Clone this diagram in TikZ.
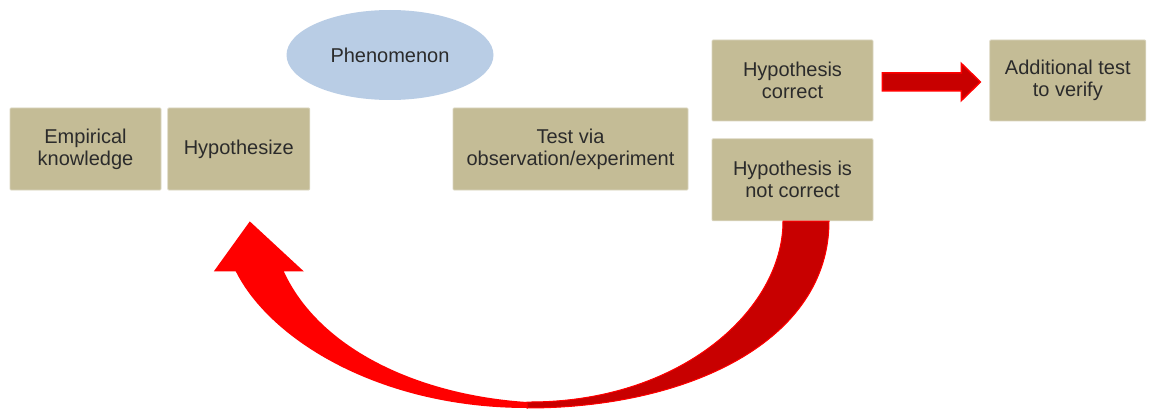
\documentclass[tikz,border=0pt]{standalone}
\usepackage{fontspec}
\setmainfont{Liberation Sans}
\usetikzlibrary{calc,positioning,shapes.geometric}
\definecolor{tanbox}{HTML}{C4BC96}
\definecolor{tanedge}{HTML}{DAD5BF}
\definecolor{skyblue}{HTML}{B9CDE5}
\definecolor{arrowred}{HTML}{FF0000}
\definecolor{darkred}{HTML}{C80000}
\definecolor{textgrey}{HTML}{2B2B2B}
\tikzset{
  stage/.style={rectangle, fill=tanbox, draw=tanedge, line width=0.8pt,
    rounded corners=1pt, minimum height=82pt, inner sep=0pt, align=center,
    text=textgrey, font=\fontsize{20}{22}\selectfont},
  phenom/.style={ellipse, fill=skyblue, minimum width=207pt, minimum height=90pt,
    inner sep=0pt, text=textgrey, font=\fontsize{20}{22}\selectfont}
}

\begin{document}
\begin{tikzpicture}[x=1pt, y=-1pt]
  \useasboundingbox (0,0) rectangle (1154,409);
  \node[stage, minimum width=151pt] (emp) at (85.5,149) {Empirical\\knowledge};
  \node[stage, minimum width=142pt, right=6pt of emp] (hyp) {Hypothesize};
  \node[phenom] (phen) at (390,55) {Phenomenon};
  \node[stage, minimum width=235pt] (test) at (570.5,149) {Test via\\observation/experiment};
  \node[stage, minimum width=161pt, minimum height=81pt] (correct) at (792.5,80.5) {Hypothesis\\correct};
  \node[stage, minimum width=161pt, below=17pt of correct] (notcorrect) {Hypothesis is\\not correct};
  \node[stage, minimum width=156pt, minimum height=81pt, right=116pt of correct] (extra) {Additional test\\to verify};
  % straight arrow
  \coordinate (s) at ($(correct.east)+(9,1.5)$);
  \filldraw[fill=darkred, draw=arrowred, line width=1.5pt, line join=miter]
    (s) +(0,-9) -- +(79,-9) -- +(79,-18.5) -- +(98,0) -- +(79,18.5) -- +(79,9) -- +(0,9) -- cycle;
  % curved arrow back to hypothesize
  \coordinate (tailout) at ($(notcorrect.south)+(36.5,0)$);
  \coordinate (tailin) at ($(notcorrect.south)+(-9.5,0)$);
  \coordinate (tip) at ($(hyp.south)+(11,31)$);
  \coordinate (low) at (527,408);
  \coordinate (lowin) at (527,402);
  \fill[arrowred] (tailout) .. controls (829,340) and (690,408) .. (low)
    .. controls (380,408) and (270,340) .. ($(tip)+(-14,50)$)
    -- ($(tip)+(-36,50)$) -- (tip) -- ($(tip)+(54,50)$) -- ($(tip)+(34,50)$)
    .. controls (320,350) and (420,395) .. (lowin)
    .. controls (680,403) and (783,310) .. (tailin) -- cycle;
  \filldraw[fill=darkred, draw=arrowred, line width=1pt]
    (tailout) .. controls (829,340) and (690,408) .. (low) -- (lowin)
    .. controls (680,403) and (783,310) .. (tailin) -- cycle;
\end{tikzpicture}
\end{document}
